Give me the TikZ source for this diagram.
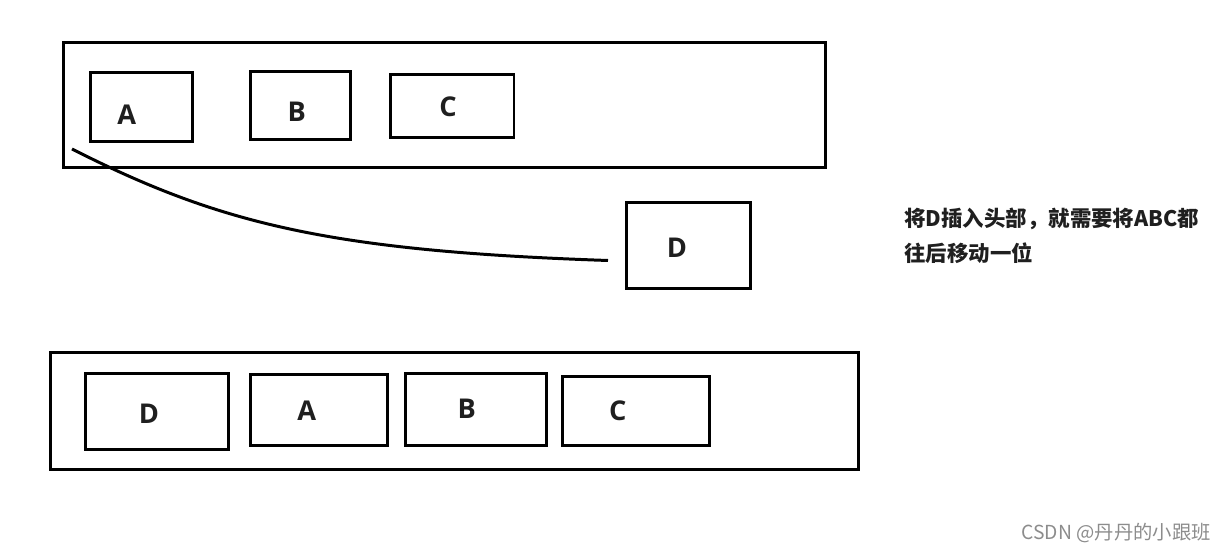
\documentclass[tikz,border=0pt]{standalone}
\usepackage{fontspec}
\setmainfont{Open Sans}
\newfontfamily\cjk{Noto Sans CJK SC}
\usetikzlibrary{positioning}
\tikzset{
  frame/.style={draw,line width=1.7pt,inner sep=0pt,outer sep=0pt},
  cell/.style={draw,line width=1.7pt,inner sep=0pt,outer sep=0pt},
  letter/.style={font=\bfseries\fontsize{15.5}{16}\selectfont,text=black!88,inner sep=0pt},
  note/.style={font=\cjk\bfseries\fontsize{12.2}{20}\selectfont,text=black!88,align=left,anchor=west,inner sep=0pt},
}
\begin{document}
\begin{tikzpicture}[x=0.02cm,y=-0.02cm]
     		\useasboundingbox (0,0) rectangle (1227,553);
     		% row before the insertion
     		\node[frame,minimum width=15.25cm,minimum height=2.51cm] (top) at (444.75,105.25) {};
     		\node[cell,minimum width=2.04cm,minimum height=1.38cm] (topA) at (141.5,107) {};
     		\node[cell,minimum width=2.0cm,minimum height=1.36cm] (topB) at (300.5,105.5) {};
     		\node[cell,minimum width=2.47cm,minimum height=1.27cm] (topC) at (452.25,106.25) {};
     		\node[letter] (topAtxt) at (126.7,115) {A};
     		\node[letter] (topBtxt) at (296.7,111.7) {B};
     		\node[letter] (topCtxt) at (448,107) {C};
     		% the new element
     		\node[cell,minimum width=2.48cm,minimum height=1.72cm] (newD) at (688.5,245.5) {};
     		\node[letter] (newDtxt) at (677,248) {D};
     		\coordinate (head) at (72,149);
     		\coordinate (tail) at (608,260.5);
     		\draw[line width=1.7pt] (head) .. controls (220,224) and (330,251) .. (tail);
     		\node[note] (why) at (904,236) {将D插入头部，就需要将ABC都\\往后移动一位};
     		% row after the insertion
     		\node[frame,minimum width=16.16cm,minimum height=2.35cm] (bot) at (454.5,411.25) {};
     		\node[cell,minimum width=2.86cm,minimum height=1.52cm] (botD) at (157,411.5) {};
     		\node[cell,minimum width=2.75cm,minimum height=1.43cm] (botA) at (319.25,410.25) {};
     		\node[cell,minimum width=2.83cm,minimum height=1.44cm] (botB) at (476.25,409.5) {};
     		\node[cell,minimum width=2.94cm,minimum height=1.39cm] (botC) at (636,411.25) {};
     		\node[letter] (botDtxt) at (149,414) {D};
     		\node[letter] (botAtxt) at (306.7,411) {A};
     		\node[letter] (botBtxt) at (466.7,409) {B};
     		\node[letter] (botCtxt) at (617.7,411) {C};
     		\node[font=\cjk\fontsize{11}{11}\selectfont,text=black!45,anchor=east,inner sep=0pt] (mark) at (1211,533) {CSDN @丹丹的小跟班};
\end{tikzpicture}
\end{document}
